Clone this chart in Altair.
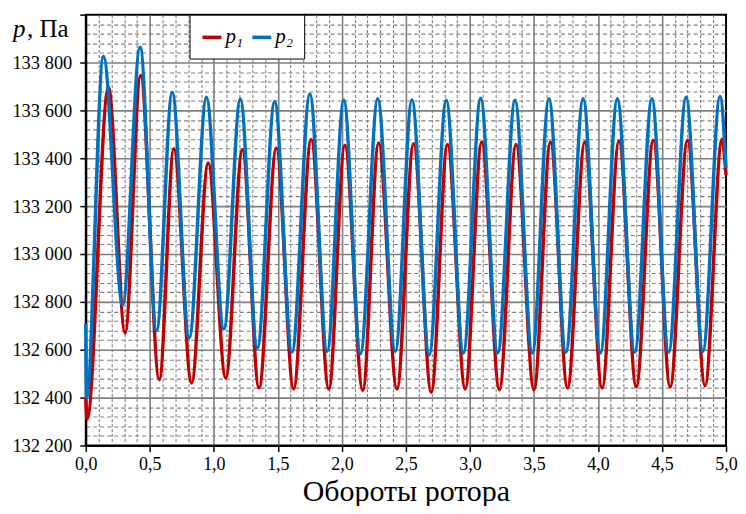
import altair as alt
import pandas as pd

# p1 (red) – turning points
p1_t = [0.0, 0.01, 0.177, 0.307, 0.428, 0.574, 0.688, 0.826, 0.956, 1.093, 1.223, 1.353,
        1.488, 1.623, 1.760, 1.898, 2.023, 2.163, 2.287, 2.430, 2.560, 2.698, 2.825, 2.963,
        3.092, 3.230, 3.360, 3.500, 3.629, 3.762, 3.897, 4.032, 4.164, 4.299, 4.432, 4.564,
        4.699, 4.836, 4.969, 5.0]
p1_v = [132400, 132310, 133697, 132670, 133746, 132475, 133440, 132461, 133380, 132482,
        133436, 132440, 133443, 132436, 133478, 132436, 133454, 132430, 133464, 132436,
        133461, 132422, 133458, 132436, 133468, 132433, 133458, 132433, 133468, 132440,
        133468, 132440, 133472, 132445, 133475, 132445, 133475, 132450, 133479, 133330]

# p2 (blue)
p2_t = [0.0, 0.006, 0.138, 0.288, 0.424, 0.553, 0.675, 0.808, 0.942, 1.078, 1.207, 1.340,
        1.475, 1.610, 1.750, 1.885, 2.015, 2.145, 2.280, 2.417, 2.547, 2.682, 2.815, 2.949,
        3.084, 3.217, 3.352, 3.487, 3.617, 3.749, 3.884, 4.019, 4.151, 4.287, 4.421, 4.552,
        4.688, 4.819, 4.953, 5.0]
p2_v = [132710, 132400, 133825, 132787, 133864, 132680, 133676, 132649, 133655, 132686,
        133648, 132607, 133637, 132589, 133669, 132593, 133642, 132583, 133649, 132593,
        133644, 132579, 133642, 132586, 133651, 132586, 133642, 132586, 133649, 132589,
        133649, 132586, 133649, 132589, 133649, 132589, 133655, 132593, 133658, 133360]

series = ["p1", "p2"]
series_labels = ["p₁", "p₂"]
colors = ["#C00000", "#0070C0"]

x_ticks = [round(i * 0.1, 1) for i in range(51)]
y_ticks = list(range(132200, 134001, 40))

FONT = "Liberation Serif"

df = pd.concat([
    pd.DataFrame({"t": p1_t, "p": p1_v, "s": series[0], "o": list(range(len(p1_t)))}),
    pd.DataFrame({"t": p2_t, "p": p2_v, "s": series[1], "o": list(range(len(p2_t)))}),
])

x_axis = alt.Axis(
    values=x_ticks,
    labelExpr="round(datum.value*10) % 5 == 0 ? replace(format(datum.value, '.1f'), '.', ',') : ''",
    labelOverlap=False, labelBound=False, labelFlush=False,
    labelFont=FONT, labelFontSize=18, labelColor="black", labelPadding=4,
    tickSize={"condition": {"test": "round(datum.value*10) % 5 == 0", "value": 6}, "value": 0},
    tickColor="black", tickWidth=1.5,
    domainColor="black", domainWidth=2,
    grid=True,
    gridDash={"condition": {"test": "round(datum.value*10) % 5 == 0", "value": [1, 0]}, "value": [3, 2]},
    gridColor={"condition": {"test": "round(datum.value*10) % 5 == 0", "value": "#7f7f7f"}, "value": "#808080"},
    gridWidth={"condition": {"test": "round(datum.value*10) % 5 == 0", "value": 1.6}, "value": 1.1},
    gridOpacity={"condition": {"test": "datum.value < 0.01 || datum.value > 4.99", "value": 0}, "value": 1},
    title="Обороты ротора", titleFont=FONT, titleFontSize=30, titleFontWeight="normal",
    titleColor="black", titlePadding=3,
)

y_axis = alt.Axis(
    values=y_ticks,
    labelExpr="(datum.value % 200 == 0 && datum.value < 134000) ? replace(format(datum.value, ','), ',', ' ') : ''",
    labelOverlap=False, labelBound=False, labelFlush=False,
    labelFont=FONT, labelFontSize=18.5, labelColor="black", labelPadding=8,
    tickSize={"condition": {"test": "datum.value % 200 == 0", "value": 6}, "value": 0},
    tickColor="black", tickWidth=1.5,
    domainColor="black", domainWidth=2,
    grid=True,
    gridDash={"condition": {"test": "datum.value % 200 == 0", "value": [1, 0]}, "value": [4, 3]},
    gridColor={"condition": {"test": "datum.value % 200 == 0", "value": "#7f7f7f"}, "value": "#808080"},
    gridWidth={"condition": {"test": "datum.value % 200 == 0", "value": 1.6}, "value": 1.1},
    gridOpacity={"condition": {"test": "datum.value < 132201 || datum.value > 133999", "value": 0}, "value": 1},
    title=None,
)

lines = alt.Chart(df).mark_line(interpolate="monotone", strokeWidth=3.5).encode(
    x=alt.X("t:Q", scale=alt.Scale(domain=[0, 5], nice=False, zero=False), axis=x_axis),
    y=alt.Y("p:Q", scale=alt.Scale(domain=[132200, 134000], nice=False, zero=False), axis=y_axis),
    color=alt.Color(
        "s:N",
        scale=alt.Scale(domain=series, range=colors),
        legend=alt.Legend(
            title=None, orient="none", legendX=104, legendY=0, direction="horizontal",
            symbolType="stroke", symbolSize=361, symbolStrokeWidth=3.5,
            labelExpr="datum.label == 'p1' ? 'p₁' : 'p₂'",
            labelFont=FONT, labelFontSize=21, labelFontStyle="italic", labelColor="black",
            labelOffset=2, columnPadding=2,
            padding=11, strokeColor="black", fillColor="white", cornerRadius=0,
        ),
    ),
    order="o:Q",
)

title_p = alt.Chart(pd.DataFrame({"txt": ["p"]})).mark_text(
    font=FONT, fontSize=25, fontStyle="italic", align="left", baseline="alphabetic", color="black"
).encode(text="txt:N", x=alt.value(-73), y=alt.value(22))

title_unit = alt.Chart(pd.DataFrame({"txt": [", Па"]})).mark_text(
    font=FONT, fontSize=25, align="left", baseline="alphabetic", color="black"
).encode(text="txt:N", x=alt.value(-59), y=alt.value(22))

chart = alt.layer(lines, title_p, title_unit).properties(
    width=642, height=432,
    autosize=alt.AutoSizeParams(type="none"),
    padding={"left": 78, "top": 6, "right": 12, "bottom": 60},
).configure_view(
    stroke="black", strokeWidth=2
).configure_axis(
    labelFont=FONT, titleFont=FONT
).configure_legend(
    labelFont=FONT
).configure_text(font=FONT)

chart.save("out.html", embed_options={"renderer": "svg", "actions": False})
